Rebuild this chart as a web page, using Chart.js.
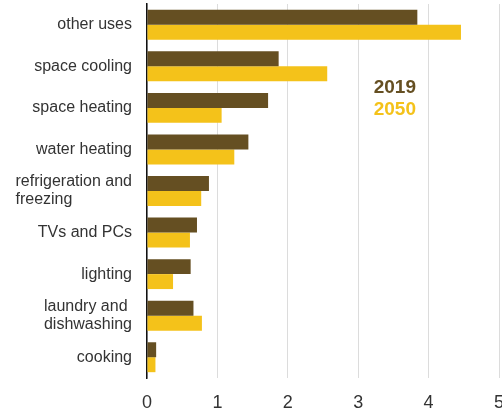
<!DOCTYPE html>
<html>
<head>
<meta charset="utf-8">
<script src="https://cdn.jsdelivr.net/npm/chart.js@4/dist/chart.umd.min.js"></script>
<style>
  html, body { margin: 0; padding: 0; background: #fff; overflow: hidden; }
  #wrap { width: 502px; height: 413px; }
</style>
</head>
<body>
<div id="wrap"><canvas id="chart" width="502" height="413"></canvas></div>
<script>
const categories = [
  'other uses',
  'space cooling',
  'space heating',
  'water heating',
  ['refrigeration and', 'freezing'],
  'TVs and PCs',
  'lighting',
  ['laundry and', 'dishwashing'],
  'cooking'
];
const values2019 = [3.84, 1.87, 1.72, 1.44, 0.88, 0.71, 0.62, 0.66, 0.13];
const values2050 = [4.46, 2.56, 1.06, 1.24, 0.77, 0.61, 0.37, 0.78, 0.12];
const xTicks = [0, 1, 2, 3, 4, 5];

const brown = '#654f22';
const yellow = '#f4c21a';
const font = "'Liberation Sans', Arial, sans-serif";

// y labels: single lines right aligned, wrapped ones left aligned as a block
const yLabelPlugin = {
  id: 'yLabels',
  afterDraw(chart) {
    const ctx = chart.ctx;
    const y = chart.scales.y;
    const right = chart.chartArea.left - 15;
    ctx.save();
    ctx.font = '16px ' + font;
    ctx.fillStyle = '#333';
    ctx.textBaseline = 'middle';
    categories.forEach((lab, i) => {
      const cy = y.getPixelForValue(i);
      const lines = Array.isArray(lab) ? lab : [lab];
      const w = Math.max(...lines.map(l => ctx.measureText(l).width));
      const lh = 18;
      lines.forEach((l, j) => {
        const ly = cy + (j - (lines.length - 1) / 2) * lh;
        ctx.textAlign = 'left';
        ctx.fillText(l, right - w, ly);
      });
    });
    ctx.restore();
  }
};

const legendPlugin = {
  id: 'textLegend',
  afterDraw(chart) {
    const ctx = chart.ctx;
    const x = chart.scales.x.getPixelForValue(3.22);
    ctx.save();
    ctx.font = 'bold 19px ' + font;
    ctx.textAlign = 'left';
    ctx.textBaseline = 'alphabetic';
    ctx.fillStyle = brown;
    ctx.fillText('2019', x, 93);
    ctx.fillStyle = yellow;
    ctx.fillText('2050', x, 115);
    ctx.restore();
  }
};

new Chart(document.getElementById('chart'), {
  type: 'bar',
  data: {
    labels: categories,
    datasets: [
      {
        label: '2019',
        data: values2019,
        backgroundColor: brown,
        categoryPercentage: 0.72,
        barPercentage: 1.0
      },
      {
        label: '2050',
        data: values2050,
        backgroundColor: yellow,
        categoryPercentage: 0.72,
        barPercentage: 1.0
      }
    ]
  },
  options: {
    indexAxis: 'y',
    responsive: false,
    animation: false,
    layout: {
      autoPadding: false,
      padding: { top: 4, right: 3, left: 0, bottom: 0 }
    },
    plugins: {
      legend: { display: false },
      tooltip: { enabled: false }
    },
    scales: {
      x: {
        min: 0,
        max: 5,
        afterBuildTicks: (scale) => {
          scale.ticks = xTicks.map(v => ({ value: v }));
        },
        afterFit: (scale) => {
          scale.height = 35;
          scale.paddingLeft = 0;
          scale.paddingRight = 0;
        },
        grid: {
          color: '#dcdcdc',
          lineWidth: 1,
          drawTicks: false
        },
        border: { display: false },
        ticks: {
          color: '#333',
          padding: 14,
          font: { family: font, size: 18 }
        }
      },
      y: {
        afterFit: (scale) => {
          scale.width = 147;
          scale.paddingTop = 0;
          scale.paddingBottom = 0;
        },
        grid: { display: false },
        border: { display: true, color: '#111', width: 1.5 },
        ticks: { color: 'transparent', font: { family: font, size: 16 } }
      }
    }
  },
  plugins: [yLabelPlugin, legendPlugin]
});
</script>
</body>
</html>
